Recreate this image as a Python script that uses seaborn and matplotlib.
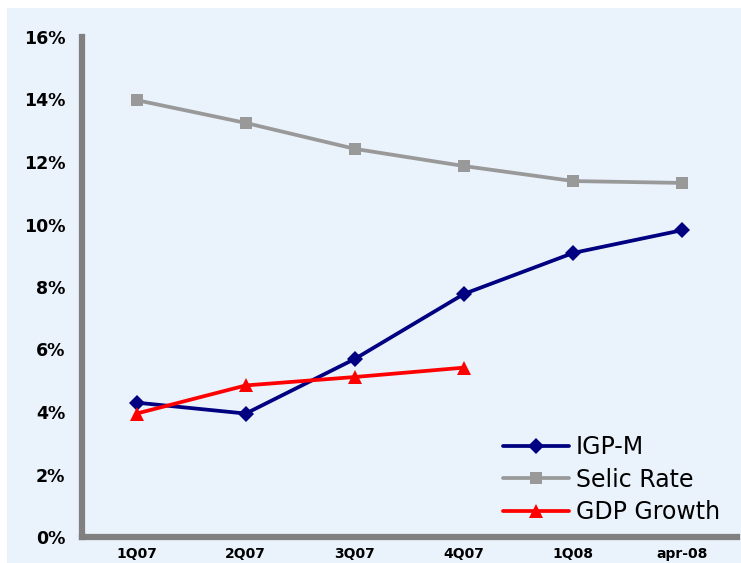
import matplotlib.pyplot as plt
import matplotlib.ticker as mticker
from matplotlib.patches import Rectangle
import seaborn as sns
import numpy as np

sns.set_theme(style="white")
plt.rcParams['font.family'] = ['DejaVu Sans']
plt.rcParams['text.color'] = 'black'
plt.rcParams['xtick.color'] = 'black'
plt.rcParams['ytick.color'] = 'black'

# data
quarters = ['1Q07', '2Q07', '3Q07', '4Q07', '1Q08', 'apr-08']
igpm = [4.3, 3.95, 5.7, 7.78, 9.09, 9.82]
selic = [13.98, 13.25, 12.42, 11.87, 11.39, 11.33]
gdp = [3.95, 4.85, 5.12, 5.42]

fig = plt.figure(figsize=(7.41, 5.63), dpi=100)
fig.patch.set_facecolor('white')
# light blue panel behind the chart
fig.patches.append(Rectangle((7 / 741, 0), 1, 1 - 8 / 563, transform=fig.transFigure,
                             facecolor='#EAF2FC', edgecolor='none', zorder=-5))

ax = fig.add_axes([82 / 741, 26 / 563, 655 / 741, 500 / 563])
ax.set_facecolor('none')
ax.set_zorder(2)

sns.lineplot(x=quarters, y=igpm, ax=ax, color='#000080', linewidth=2.7,
             marker='D', markersize=8, markeredgewidth=0, label='IGP-M')
sns.lineplot(x=quarters, y=selic, ax=ax, color='#999999', linewidth=2.7,
             marker='s', markersize=9, markeredgewidth=0, label='Selic Rate')
sns.lineplot(x=quarters[:len(gdp)], y=gdp, ax=ax, color='#FF0000', linewidth=2.7,
             marker='^', markersize=10, markeredgewidth=0, label='GDP Growth')

ax.set_xlim(-0.5, len(quarters) - 0.5)
ax.set_ylim(0, 16)
ax.yaxis.set_major_locator(mticker.MultipleLocator(2))
ax.yaxis.set_major_formatter(mticker.FuncFormatter(lambda v, p: f'{v:.0f}%'))

# ticks between categories on x
ax.set_xticks(np.arange(len(quarters)))
ax.set_xticklabels(quarters, fontsize=10, fontweight='bold')
ax.set_xticks(np.arange(-0.5, len(quarters), 1), minor=True)
ax.tick_params(axis='x', which='major', length=0, pad=7)
ax.tick_params(axis='x', which='minor', length=4, width=3.5, color='#808080', direction='out')
ax.tick_params(axis='y', length=5, width=3.5, color='#808080', direction='out', labelsize=12.5, pad=7)
for lbl in ax.get_yticklabels():
    lbl.set_fontweight('bold')

for side in ['top', 'right']:
    ax.spines[side].set_visible(False)
for side in ['left', 'bottom']:
    ax.spines[side].set_color('#808080')
    ax.spines[side].set_linewidth(4.5)

ax.set_xlabel('')
ax.set_ylabel('')
ax.legend(loc='lower right', bbox_to_anchor=(1.01, -0.022), frameon=False, fontsize=17,
          handlelength=2.8, handletextpad=0.3, labelspacing=0.37, borderaxespad=0.6)

fig.savefig('out.png', dpi=100)
